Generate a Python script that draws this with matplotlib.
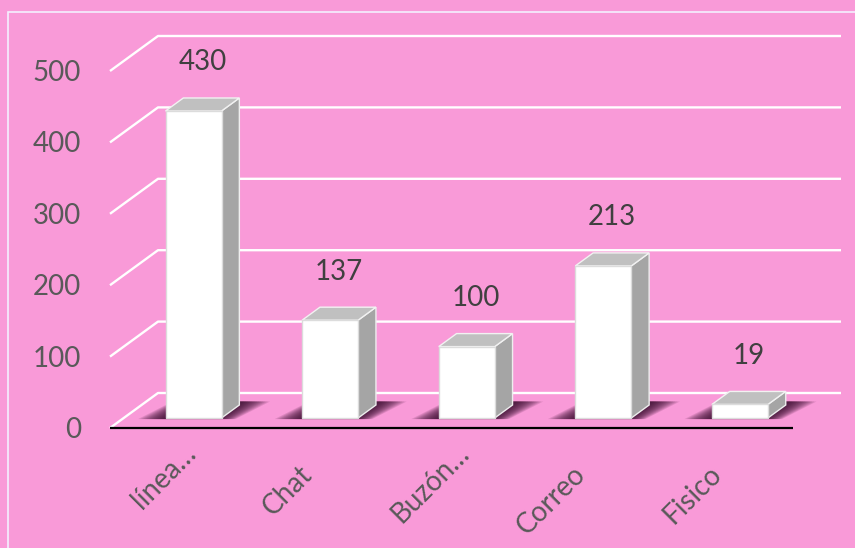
import matplotlib
matplotlib.use('Agg')
import matplotlib.pyplot as plt
from matplotlib.patches import Polygon, Rectangle
import numpy as np

categories = ['línea…', 'Chat', 'Buzón…', 'Correo', 'Fisico']
values = [430, 137, 100, 213, 19]
y_ticks = [0, 100, 200, 300, 400, 500]

BG = '#F99AD8'
W, H, DPI = 855, 548, 100
plt.rcParams['font.family'] = ['Lato', 'DejaVu Sans']

fig = plt.figure(figsize=(W / DPI, H / DPI), dpi=DPI, facecolor=BG)
ax = fig.add_axes([0, 0, 1, 1])
ax.set_facecolor(BG)
ax.axis('off')

# projection layout (pixels)
STEP_PX = 136.6      # px between categories
X0_PX = 179.8        # px of first category on front plane
Y0_PX = 428          # px from top of value 0 on front plane
VAL_PX = 0.714       # px per value unit
DEPTH_PX = (48, 35)  # front plane -> back wall shift
ax.set_xlim(-X0_PX / STEP_PX, (W - X0_PX) / STEP_PX)
ax.set_ylim((Y0_PX - H) / VAL_PX, Y0_PX / VAL_PX)


def P(x, v, t):
    return (x + DEPTH_PX[0] * t / STEP_PX, v + DEPTH_PX[1] * t / VAL_PX)


T_F, T_B = 10 / 35, 23 / 35
HW = 28 / STEP_PX
XL, XR = -0.511, 4.489

# gridlines (diagonal on the left, horizontal on the back wall)
for v in y_ticks:
    pts = [P(XL, v, 0), P(XL, v, 1), P(XR, v, 1)]
    ax.plot([p[0] for p in pts], [p[1] for p in pts], color='white', lw=1.7,
            zorder=1, solid_capstyle='butt')

# shadows
for i, v in enumerate(values):
    for e in np.linspace(26, 0, 13):
        ex = e / STEP_PX
        poly = [P(i - HW - ex, 0, T_F - 0.03), P(i + HW + ex * 0.6, 0, T_F - 0.03),
                P(i + HW + ex, 0, T_B + 0.1), P(i - HW - ex * 0.6, 0, T_B + 0.1)]
        ax.add_patch(Polygon(poly, closed=True, fc='#300626', ec='none',
                             alpha=0.12, zorder=2))

# bars
for i, v in enumerate(values):
    front = [P(i - HW, 0, T_F), P(i + HW, 0, T_F), P(i + HW, v, T_F), P(i - HW, v, T_F)]
    side = [P(i + HW, 0, T_F), P(i + HW, 0, T_B), P(i + HW, v, T_B), P(i + HW, v, T_F)]
    top = [P(i - HW, v, T_F), P(i + HW, v, T_F), P(i + HW, v, T_B), P(i - HW, v, T_B)]
    ax.add_patch(Polygon(side, closed=True, fc='#A5A5A5', ec='#eeeeee', lw=1.0, zorder=3))
    ax.add_patch(Polygon(top, closed=True, fc='#C0C0C0', ec='#f2f2f2', lw=1.0, zorder=3))
    ax.add_patch(Polygon(front, closed=True, fc='white', ec='#dcdcdc', lw=1.0, zorder=4))
    mx, my = P(i, v, (T_F + T_B) / 2)
    ax.annotate(str(v), xy=(mx, my), xytext=(0, 42), textcoords='offset pixels',
                ha='center', va='center', fontsize=20, color='#404040', zorder=6)

# front axis line
p0, p1 = P(XL, 0, 0), P(XR, 0, 0)
ax.plot([p0[0], p1[0]], [p0[1], p1[1]], color='black', lw=1.6, zorder=5,
        solid_capstyle='butt')

# value tick labels
for v in y_ticks:
    ax.annotate(str(v), xy=P(XL, v, 0), xytext=(-29, -2), textcoords='offset pixels',
                ha='right', va='center', fontsize=20, color='#595959')

# category labels
for i, c in enumerate(categories):
    off = (18, -27) if c.endswith('…') else (-3, -48)
    ax.annotate(c, xy=P(i, 0, 0), xytext=off, textcoords='offset pixels',
                rotation=45, rotation_mode='anchor', ha='right', va='baseline',
                fontsize=20, color='#595959')

# outer plot-area border
fig.patches.append(Rectangle((8 / W, -0.1), 2, (H - 12) / H + 0.1,
                             transform=fig.transFigure, fill=False,
                             ec='#f4f0ff', lw=1.2))

fig.savefig('out.png', dpi=DPI, facecolor=BG)
